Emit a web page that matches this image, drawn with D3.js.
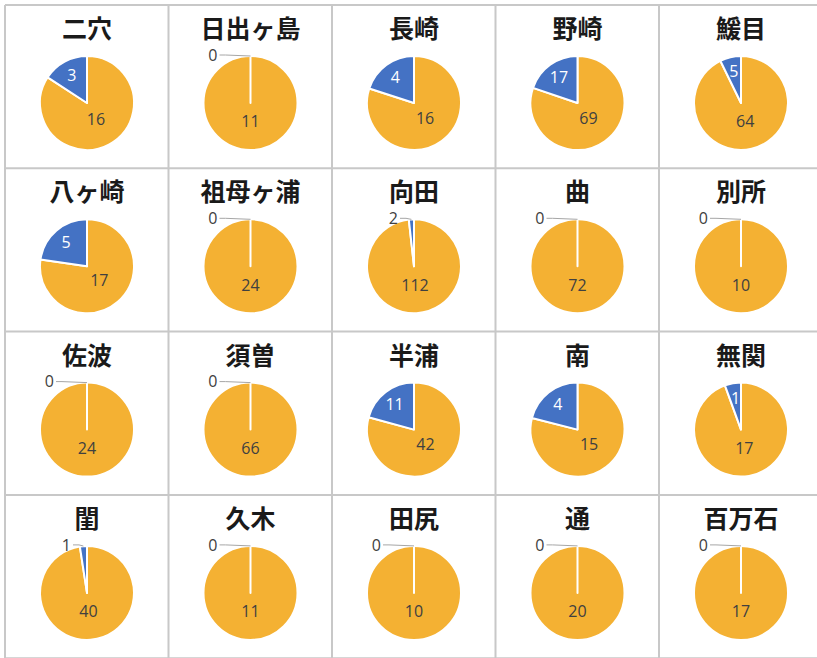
<!DOCTYPE html>
<html>
<head>
<meta charset="utf-8">
<script src="https://cdn.jsdelivr.net/npm/d3@7"></script>
<style>
  body { margin: 0; background: #fff; }
</style>
</head>
<body>
<div id="chart"></div>
<script>
// place names, in grid order (5 per row)
const names = [
    "二穴", "日出ヶ島", "長崎", "野崎", "鰀目",
    "八ヶ崎", "祖母ヶ浦", "向田", "曲", "別所",
    "佐波", "須曽", "半浦", "南", "無関",
    "閨", "久木", "田尻", "通", "百万石"
];
const orangeVals = [16, 11, 16, 69, 64, 17, 24, 112, 72, 10, 24, 66, 42, 15, 17, 40, 11, 10, 20, 17];
const blueVals   = [3, 0, 4, 17, 5, 5, 0, 2, 0, 0, 0, 0, 11, 4, 1, 1, 0, 0, 0, 0];

const W = 817, H = 658;
const cols = 5;
const cellW = 163.5, cellH = 163.3;
const x0 = 5, y0 = 5;
const r = 47;

const colors = ["#F4B133", "#4472C4"];

const svg = d3.select("#chart").append("svg")
    .attr("width", W)
    .attr("height", H);

// grid lines
const gx = d3.range(0, 6).map(i => x0 + i * cellW);
const gy = d3.range(0, 5).map(i => y0 + i * cellH);

svg.selectAll("line.v")
    .data(gx)
    .enter()
    .append("line")
    .attr("class", "v")
    .attr("x1", d => d).attr("x2", d => d)
    .attr("y1", y0).attr("y2", H + 5)
    .attr("stroke", "#C8C8C8")
    .attr("stroke-width", 2);

svg.selectAll("line.h")
    .data(gy)
    .enter()
    .append("line")
    .attr("class", "h")
    .attr("y1", d => d).attr("y2", d => d)
    .attr("x1", x0).attr("x2", W + 5)
    .attr("stroke", "#C8C8C8")
    .attr("stroke-width", 2);

const pie = d3.pie().sort(null).value(d => d);
const arc = d3.arc().innerRadius(0).outerRadius(r);

names.forEach((name, i) => {
    const col = i % cols, row = Math.floor(i / cols);
    const cx = x0 + col * cellW + 82;
    const cy = y0 + row * cellH + 98;

    const cell = svg.append("g");

    cell.append("text")
        .attr("x", cx)
        .attr("y", cy - 65)
        .attr("text-anchor", "middle")
        .style("font-family", "'Noto Sans CJK JP', sans-serif")
        .style("font-size", "25px")
        .style("font-weight", "bold")
        .style("fill", "#1a1a1a")
        .text(name);

    const slices = pie([orangeVals[i], blueVals[i]]);
    const g = cell.append("g").attr("transform", `translate(${cx},${cy})`);

    g.selectAll("path")
        .data(slices)
        .enter()
        .append("path")
        .attr("d", arc)
        .attr("fill", (d, k) => colors[k])
        .attr("stroke", "#fff")
        .attr("stroke-width", 2)
        .attr("stroke-linejoin", "round");

    // orange label
    const o = slices[0];
    const om = (o.startAngle + o.endAngle) / 2;
    const od = r * 0.4;
    g.append("text")
        .attr("x", Math.sin(om) * od)
        .attr("y", -Math.cos(om) * od)
        .attr("dy", "0.35em")
        .attr("text-anchor", "middle")
        .style("font-family", "'Open Sans', sans-serif")
        .style("font-size", "16px")
        .style("fill", "#404040")
        .text(o.data);

    // blue label: inside if it fits, else outside with a leader line
    const b = slices[1];
    const bm = (b.startAngle + b.endAngle) / 2;
    const span = b.endAngle - b.startAngle;
    if (span > 0.3) {
        const bd = r * 0.68;
        g.append("text")
            .attr("x", Math.sin(bm) * bd)
            .attr("y", -Math.cos(bm) * bd)
            .attr("dy", "0.35em")
            .attr("text-anchor", "middle")
            .style("font-family", "'Open Sans', sans-serif")
            .style("font-size", "16px")
            .style("fill", "#fff")
            .text(b.data);
    } else {
        const lx = b.data === 0 ? -33 : -16;
        const ly = -r - 1;
        const rx = Math.sin(bm) * r, ry = -Math.cos(bm) * r;
        g.append("path")
            .attr("d", `M${lx + 2},${ly} L${lx + 8},${ly} L${rx},${ry}`)
            .attr("fill", "none")
            .attr("stroke", "#A6A6A6")
            .attr("stroke-width", 1);
        g.append("text")
            .attr("x", lx)
            .attr("y", ly)
            .attr("dy", "0.35em")
            .attr("text-anchor", "end")
            .style("font-family", "'Open Sans', sans-serif")
            .style("font-size", "16px")
            .style("fill", "#404040")
            .text(b.data);
    }
});
</script>
</body>
</html>
